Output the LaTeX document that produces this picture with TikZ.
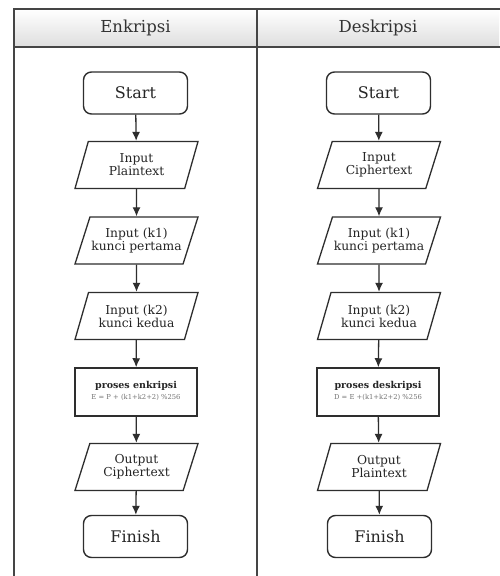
\documentclass[tikz,border=0pt]{standalone}
\usepackage{fontspec}
\setmainfont{DejaVu Serif}
\usetikzlibrary{shapes.geometric,arrows.meta}
\definecolor{ln}{HTML}{2E2E2E}
\definecolor{tb}{HTML}{454545}
\begin{document}
\begin{tikzpicture}[x=1pt,y=-1pt,
 term/.style={draw=ln, line width=1.4pt, rounded corners=8pt, minimum width=104pt, minimum height=42pt, font=\fontsize{16}{18}\selectfont, text=black!85},
 io/.style={draw=ln, line width=1.3pt, trapezium, trapezium left angle=59, trapezium right angle=121, trapezium stretches body, minimum width=123pt, minimum height=47pt, inner sep=0pt, align=center, font=\fontsize{12.3}{13}\selectfont, text=black!85},
 proc/.style={draw=ln, line width=1.5pt, minimum width=122pt, minimum height=48pt, inner sep=1pt, align=center, text=black!85},
 arr/.style={draw=ln, line width=1.3pt, -{Latex[length=9pt,width=8pt]}},
 hdr/.style={font=\fontsize{16.5}{18}\selectfont, text=black!80}]
\fill[white] (0,0) rectangle (499,576);
\useasboundingbox (0,0) rectangle (499,576);
% table
\shade[top color=white, bottom color=black!13] (14,9) rectangle (499,47);
\draw[tb, line width=2pt] (500,9) -- (14,9) -- (14,578);
\draw[tb, line width=2pt] (14,47) -- (500,47);
\draw[tb, line width=2pt] (257,9) -- (257,578);
\node[hdr] (h1) at (135.5,28) {Enkripsi};
\node[hdr] (h2) at (378,28) {Deskripsi};
% left column
\node[term] (s1) at (135.5,93) {Start};
\node[io] (a1) at (136.5,165) {Input\\Plaintext};
\node[io] (b1) at (136.5,240.5) {Input (k1)\\kunci pertama};
\node[io] (c1) at (136.5,316) {Input (k2)\\kunci kedua};
\node[proc] (p1) at (136,392) {\begin{tabular}{@{}c@{}}\textbf{\fontsize{9.5}{10}\selectfont proses enkripsi}\\[-1pt]{\fontsize{6.8}{7}\selectfont\color{black!55}E = P + (k1+k2+2) \%256}\end{tabular}};
\node[io] (d1) at (136.5,467) {Output\\Ciphertext};
\node[term] (f1) at (135.5,536.5) {Finish};
\draw[arr] (s1) -- (a1);
\draw[arr] (a1) -- (b1);
\draw[arr] (b1) -- (c1);
\draw[arr] (c1) -- (p1);
\draw[arr] (p1) -- (d1);
\draw[arr] (d1) -- (f1);
% right column
\node[term] (s2) at (378.5,93) {Start};
\node[io] (a2) at (379,165) {Input\\Ciphertext};
\node[io] (b2) at (379,240.5) {Input (k1)\\kunci pertama};
\node[io] (c2) at (379,316) {Input (k2)\\kunci kedua};
\node[proc] (p2) at (378,392) {\begin{tabular}{@{}c@{}}\textbf{\fontsize{9.5}{10}\selectfont proses deskripsi}\\[-1pt]{\fontsize{6.8}{7}\selectfont\color{black!55}D = E +(k1+k2+2) \%256}\end{tabular}};
\node[io] (d2) at (379,467) {Output\\Plaintext};
\node[term] (f2) at (379.5,536.5) {Finish};
\draw[arr] (s2) -- (a2);
\draw[arr] (a2) -- (b2);
\draw[arr] (b2) -- (c2);
\draw[arr] (c2) -- (p2);
\draw[arr] (p2) -- (d2);
\draw[arr] (d2) -- (f2);
\end{tikzpicture}
\end{document}
